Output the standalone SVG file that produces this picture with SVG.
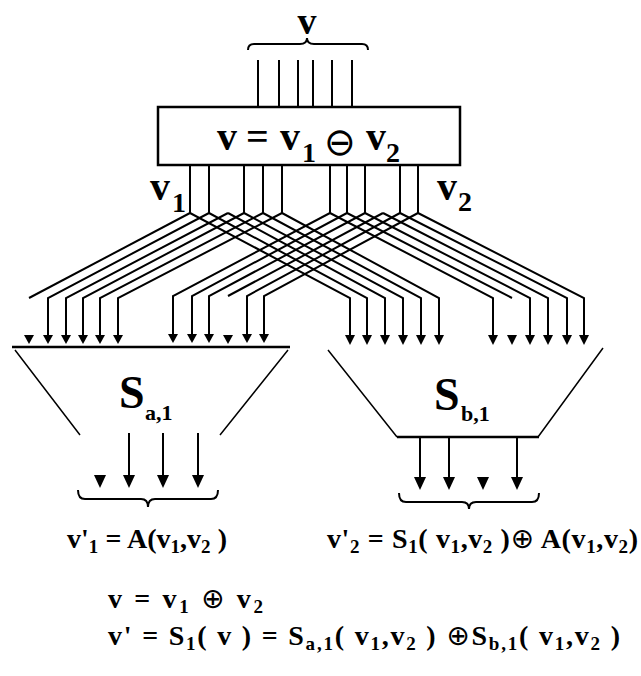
<svg xmlns="http://www.w3.org/2000/svg" width="641" height="676" viewBox="0 0 641 676">
<style>
.w{fill:none;stroke:#000;stroke-width:2}
.s{fill:none;stroke:#000;stroke-width:1.5}
.h{fill:#000;stroke:none}
.t{font-family:"Liberation Serif","Times New Roman",serif;font-weight:bold;fill:#000}
.m{font-family:"DejaVu Sans","Liberation Sans",sans-serif;font-weight:normal;fill:#000}
</style>
<rect width="641" height="676" fill="#fff"/>
<g id="input">
<text class="t" x="307" y="34" font-size="38" text-anchor="middle">v</text>
<path class="w" d="M248,50 Q248,44 254,44 L300,44 Q307,44 307,38 Q307,44 314,44 L362,44 Q368,44 368,50"/>
<path class="w" d="M258,60V107M279,60V107M298,60V107M313,60V107M332,60V107M352,60V107"/>
</g>
<g id="split-box">
<rect x="158" y="107" width="302" height="58" fill="#fff" stroke="#000" stroke-width="2.5"/>
<text class="t" font-size="40" y="150"><tspan x="217">v</tspan><tspan x="246">=</tspan><tspan x="280">v</tspan><tspan x="302" y="162" font-size="28">1</tspan></text>
<text class="m" x="324" y="155" font-size="38">⊖</text>
<text class="t" font-size="40" y="150"><tspan x="366">v</tspan><tspan x="386" y="162" font-size="28">2</tspan></text>
</g>
<g id="label-v1"><text class="t" font-size="40" y="200"><tspan x="150">v</tspan><tspan x="172" y="212" font-size="28">1</tspan></text></g>
<g id="label-v2"><text class="t" font-size="40" y="200"><tspan x="437">v</tspan><tspan x="458" y="211" font-size="28">2</tspan></text></g>
<g id="connectors">
<path class="w" d="M190,165V213M209,165V213M244,165V213M263,165V213M282,165V213M330,165V213M347,165V213M365,165V213M400,165V213M418,165V213"/>
<path class="w" d="M190,213L29,298"/>
<path class="w" d="M209,213L48,298V336"/>
<path class="w" d="M228,213L66,298V336"/>
<path class="w" d="M244,213L83,298V336"/>
<path class="w" d="M263,213L100,298V336"/>
<path class="w" d="M282,213L118,298V336"/>
<path class="w" d="M330,213L173,296V336"/>
<path class="w" d="M347,213L192,296V336"/>
<path class="w" d="M365,213L209,296V336"/>
<path class="w" d="M383,213L228,296"/>
<path class="w" d="M400,213L247,296V336"/>
<path class="w" d="M418,213L264,296V336"/>
<path class="w" d="M190,213L350,298V336"/>
<path class="w" d="M209,213L367,298V336"/>
<path class="w" d="M228,213L385,298V336"/>
<path class="w" d="M244,213L403,298V336"/>
<path class="w" d="M263,213L421,298V336"/>
<path class="w" d="M282,213L439,298V336"/>
<path class="w" d="M330,213L493,298V336"/>
<path class="w" d="M347,213L512,298"/>
<path class="w" d="M365,213L530,298V336"/>
<path class="w" d="M383,213L548,298V336"/>
<path class="w" d="M400,213L567,298V336"/>
<path class="w" d="M418,213L584,298V336"/>
<g class="h">
<polygon points="24,335 34,335 29,344"/><polygon points="43,335 53,335 48,344"/><polygon points="61,335 71,335 66,344"/><polygon points="78,335 88,335 83,344"/><polygon points="95,335 105,335 100,344"/><polygon points="113,335 123,335 118,344"/>
<polygon points="168,334 178,334 173,343"/><polygon points="187,334 197,334 192,343"/><polygon points="204,334 214,334 209,343"/><polygon points="223,335 233,335 228,344"/><polygon points="242,334 252,334 247,343"/><polygon points="259,334 269,334 264,343"/>
<polygon points="345,335 355,335 350,345"/><polygon points="362,335 372,335 367,345"/><polygon points="380,335 390,335 385,345"/><polygon points="398,335 408,335 403,345"/><polygon points="416,335 426,335 421,345"/><polygon points="434,335 444,335 439,345"/>
<polygon points="488,335 498,335 493,345"/><polygon points="507,335 517,335 512,345"/><polygon points="525,335 535,335 530,345"/><polygon points="543,335 553,335 548,345"/><polygon points="562,335 572,335 567,345"/><polygon points="579,335 589,335 584,345"/>
</g>
<path class="w" d="M129,433V477M163,433V477M198,433V477"/>
<g class="h">
<polygon points="94,475 106,475 100,488"/><polygon points="123,475 135,475 129,488"/><polygon points="157,475 169,475 163,488"/><polygon points="192,475 204,475 198,488"/>
</g>
<path class="w" d="M420,437V479M449,437V479M517,437V479"/>
<g class="h">
<polygon points="414,477 426,477 420,490"/><polygon points="443,477 455,477 449,490"/><polygon points="477,477 489,477 483,490"/><polygon points="511,477 523,477 517,490"/>
</g>
</g>
<g id="sbox-a1">
<path d="M12,347H290" stroke="#000" stroke-width="2.5" fill="none"/>
<path class="s" d="M15,350L80,435M288,350L220,435"/>
<text class="t" font-size="46" y="408"><tspan x="119">S</tspan><tspan x="145" y="420" font-size="22">a,1</tspan></text>
</g>
<g id="sbox-b1">
<path class="s" d="M328,350L397,437M603,348L538,437"/>
<path d="M397,437H539" stroke="#000" stroke-width="2.5" fill="none"/>
<text class="t" font-size="46" y="410"><tspan x="434">S</tspan><tspan x="461" y="421" font-size="22">b,1</tspan></text>
</g>
<g id="out-left">
<path class="w" d="M78,490 Q78,499 85,499 L141,499 Q148,499 148,507 Q148,499 155,499 L211,499 Q218,499 218,490"/>
<text class="t" font-size="28" x="67" y="548" textLength="160">v'<tspan dy="5" font-size="19">1</tspan><tspan dy="-5"> = A(v</tspan><tspan dy="5" font-size="19">1</tspan><tspan dy="-5">,v</tspan><tspan dy="5" font-size="19">2</tspan><tspan dy="-5"> )</tspan></text>
</g>
<g id="out-right">
<path class="w" d="M399,493 Q399,502 406,502 L462,502 Q469,502 469,509 Q469,502 476,502 L532,502 Q539,502 539,493"/>
<text class="t" font-size="28" x="327" y="548" textLength="311">v'<tspan dy="5" font-size="19">2</tspan><tspan dy="-5"> = S</tspan><tspan dy="5" font-size="19">1</tspan><tspan dy="-5">( v</tspan><tspan dy="5" font-size="19">1</tspan><tspan dy="-5">,v</tspan><tspan dy="5" font-size="19">2</tspan><tspan dy="-5"> )</tspan><tspan class="m" font-size="28">⊕</tspan><tspan> A(v</tspan><tspan dy="5" font-size="19">1</tspan><tspan dy="-5">,v</tspan><tspan dy="5" font-size="19">2</tspan><tspan dy="-5">)</tspan></text>
</g>
<g id="equations">
<text class="t" font-size="28" x="108" y="608" textLength="155">v  = v<tspan dy="5" font-size="19">1</tspan><tspan dy="-5"> </tspan><tspan class="m" font-size="28">⊕</tspan><tspan> v</tspan><tspan dy="5" font-size="19">2</tspan></text>
<text class="t" font-size="28" x="108" y="645" textLength="512">v'  = S<tspan dy="5" font-size="19">1</tspan><tspan dy="-5">( v ) = S</tspan><tspan dy="5" font-size="19">a,1</tspan><tspan dy="-5">( v</tspan><tspan dy="5" font-size="19">1</tspan><tspan dy="-5">,v</tspan><tspan dy="5" font-size="19">2</tspan><tspan dy="-5"> ) </tspan><tspan class="m" font-size="28">⊕</tspan><tspan>S</tspan><tspan dy="5" font-size="19">b,1</tspan><tspan dy="-5">( v</tspan><tspan dy="5" font-size="19">1</tspan><tspan dy="-5">,v</tspan><tspan dy="5" font-size="19">2</tspan><tspan dy="-5"> )</tspan></text>
</g>
</svg>
